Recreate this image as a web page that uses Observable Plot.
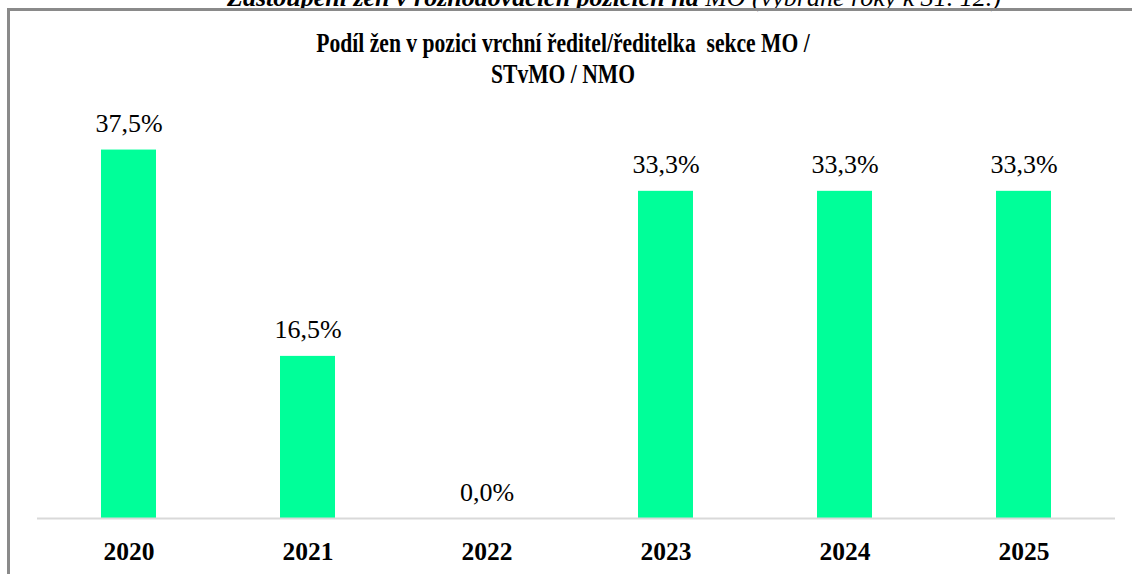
<!DOCTYPE html>
<html>
<head>
<meta charset="utf-8">
<script src="https://cdn.jsdelivr.net/npm/d3@7"></script>
<script src="https://cdn.jsdelivr.net/npm/@observablehq/plot@0.6"></script>
<style>
  html, body { margin: 0; padding: 0; background: #fff; }
  #wrap { position: relative; width: 1132px; height: 574px; overflow: hidden; font-family: "Liberation Serif", Tinos, "Times New Roman", Times, "DejaVu Serif", serif; color: #000; }
  #frame { position: absolute; left: 7px; top: 8px; width: 1200px; height: 700px; border-top: 3px solid #8a8a8a; border-left: 3px solid #8a8a8a; box-sizing: border-box; }
  #suptitle { position: absolute; left: 614px; top: -17px; transform: translateX(-50%); white-space: pre; font-size: 26px; font-style: italic; line-height: 30px; }
  #suptitle b { font-weight: bold; }
  #suptitle span { font-weight: normal; }
  #title { position: absolute; left: 563px; top: 28px; transform: translateX(-50%) scaleX(0.8); white-space: pre; text-align: center; font-size: 27px; font-weight: bold; line-height: 31px; }
  #chart { position: absolute; left: 0; top: 0; }
  #chart svg text { font-family: "Liberation Serif", Tinos, "Times New Roman", Times, "DejaVu Serif", serif; }
</style>
</head>
<body>
<div id="wrap">
  <div id="suptitle"><b>Zastoupení žen v rozhodovacích pozicích na </b><span>MO (vybrané roky k 31. 12.)</span></div>
  <div id="frame"></div>
  <div id="title">Podíl žen v pozici vrchní ředitel/ředitelka  sekce MO /
STvMO / NMO</div>
  <div id="chart"></div>
</div>
<script>
const years = ["2020", "2021", "2022", "2023", "2024", "2025"];
const shares = [37.5, 16.5, 0.0, 33.3, 33.3, 33.3];

const data = years.map((year, i) => ({year, value: shares[i]}));
const fmt = v => v.toFixed(1).replace(".", ",") + "%";

const chart = Plot.plot({
  width: 1132,
  height: 574,
  marginLeft: 37,
  marginRight: 17,
  marginTop: 125,
  marginBottom: 56,
  style: {fontFamily: "Liberation Serif, Tinos, Times New Roman, Times, DejaVu Serif, serif", color: "#000", background: "transparent"},
  x: {domain: years, paddingInner: 0.69, paddingOuter: 0.345, label: null},
  y: {domain: [0, 40], axis: null},
  marks: [
    Plot.barY(data, {x: "year", y: "value", fill: "#00ff99"}),
    Plot.ruleY([0], {stroke: "#d9d9d9", strokeWidth: 2}),
    Plot.text(data, {x: "year", y: "value", text: d => fmt(d.value), lineAnchor: "bottom", dy: -18, fontSize: 26, fill: "#000"}),
    Plot.axisX({tickSize: 0, tickPadding: 23, fontSize: 25.5, fontWeight: "bold", fill: "#000", label: null})
  ]
});
document.getElementById("chart").appendChild(chart);
</script>
</body>
</html>
